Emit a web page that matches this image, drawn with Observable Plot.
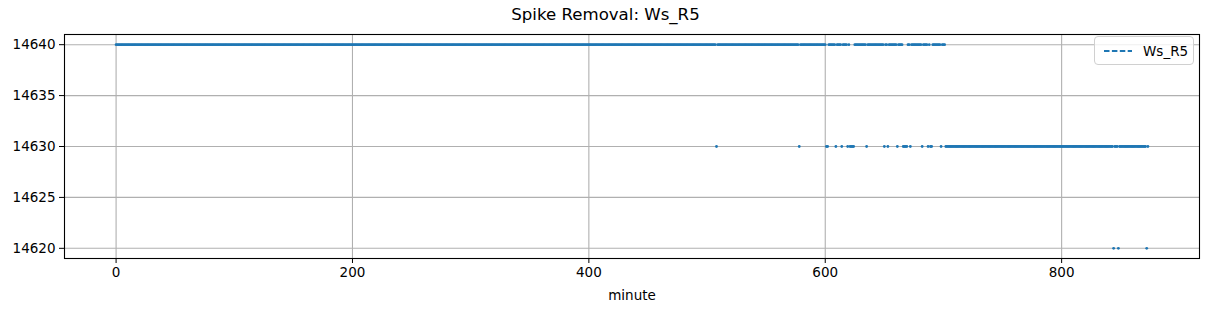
<!DOCTYPE html>
<html>
<head>
<meta charset="utf-8">
<script src="https://cdn.jsdelivr.net/npm/d3@7"></script>
<script src="https://cdn.jsdelivr.net/npm/@observablehq/plot@0.6"></script>
<style>
  html, body { margin: 0; padding: 0; background: #fff; }
  body { width: 1211px; height: 311px; overflow: hidden; font-family: "DejaVu Sans", sans-serif; }
  #wrap { position: relative; width: 1211px; height: 311px; }
  #title { height: 26px; line-height: 30px; text-align: center; font-size: 16.6px; color: #000; }
  #legend { position: absolute; left: 1094px; top: 36px; width: 100px; height: 29px; box-sizing: border-box;
            border: 1px solid #d0d0d0; border-radius: 4px; background: rgba(255,255,255,0.8); }
  #legend svg { position: absolute; left: 0; top: 0; }
</style>
</head>
<body>
<div id="wrap">
  <div id="title">Spike Removal: Ws_R5</div>
  <div id="chart"></div>
  <div id="legend"></div>
</div>
<script>
// ---- data ----
const seriesName = "Ws_R5";
const runStarts = [0, 702];          // first minute of each constant run
const runEnds   = [701, 873];        // last minute of each constant run
const runValues = [14640, 14630];    // value of each run
// minutes inside the first run that read 14630 instead of 14640
const drops14630 = [508, 578, 601, 602, 609, 614, 619, 621, 622, 623, 624, 635, 650, 653, 661,
                    666, 667, 668, 669, 672, 682, 687, 689, 690, 698];
// minutes inside the second run that read 14620 instead of 14630
const drops14620 = [844, 848, 872];
const xTicks = [0, 200, 400, 600, 800];
const yTicks = [14620, 14625, 14630, 14635, 14640];

// ---- build table ----
const overrides = [new Map(drops14630.map(m => [m, 14630])), new Map(drops14620.map(m => [m, 14620]))];
const data = [];
runStarts.forEach((s, i) => {
  for (let m = s; m <= runEnds[i]; m++) {
    data.push({minute: m, value: overrides[i].has(m) ? overrides[i].get(m) : runValues[i]});
  }
});

const xMin = d3.min(data, d => d.minute), xMax = d3.max(data, d => d.minute);
const yMin = d3.min(data, d => d.value), yMax = d3.max(data, d => d.value);
const xPad = (xMax - xMin) * 0.05, yPad = (yMax - yMin) * 0.05;
const blue = "#1f77b4";

const chart = Plot.plot({
  width: 1211,
  height: 285,
  marginTop: 8,
  marginBottom: 53,
  marginLeft: 64,
  marginRight: 12,
  style: {fontFamily: "DejaVu Sans, sans-serif", fontSize: "13.5px", color: "#000", background: "#fff"},
  x: {domain: [xMin - xPad, xMax + xPad]},
  y: {domain: [yMin - yPad, yMax + yPad]},
  marks: [
    Plot.gridX(xTicks, {stroke: "#b0b0b0", strokeOpacity: 1, strokeWidth: 1.1}),
    Plot.gridY(yTicks, {stroke: "#b0b0b0", strokeOpacity: 1, strokeWidth: 1.1}),
    Plot.dot(data, {x: "minute", y: "value", r: 1.4, fill: blue, stroke: null}),
    Plot.frame({stroke: "#000", strokeWidth: 1.1}),
    Plot.axisX({ticks: xTicks, tickFormat: d3.format("d"), tickSize: 5, tickPadding: 4,
                label: "minute", labelAnchor: "center", labelArrow: "none", labelOffset: 41}),
    Plot.axisY({ticks: yTicks, tickFormat: d3.format("d"), tickSize: 5, tickPadding: 4, label: null})
  ]
});
document.getElementById("chart").appendChild(chart);

// legend
const lg = d3.select("#legend").append("svg").attr("width", 100).attr("height", 29);
lg.append("line").attr("x1", 9).attr("x2", 37).attr("y1", 14).attr("y2", 14)
  .attr("stroke", blue).attr("stroke-width", 2).attr("stroke-dasharray", "5.5,2.4");
lg.append("text").attr("x", 48).attr("y", 19).attr("font-size", "13.5px")
  .attr("font-family", "DejaVu Sans, sans-serif").text(seriesName);
</script>
</body>
</html>
